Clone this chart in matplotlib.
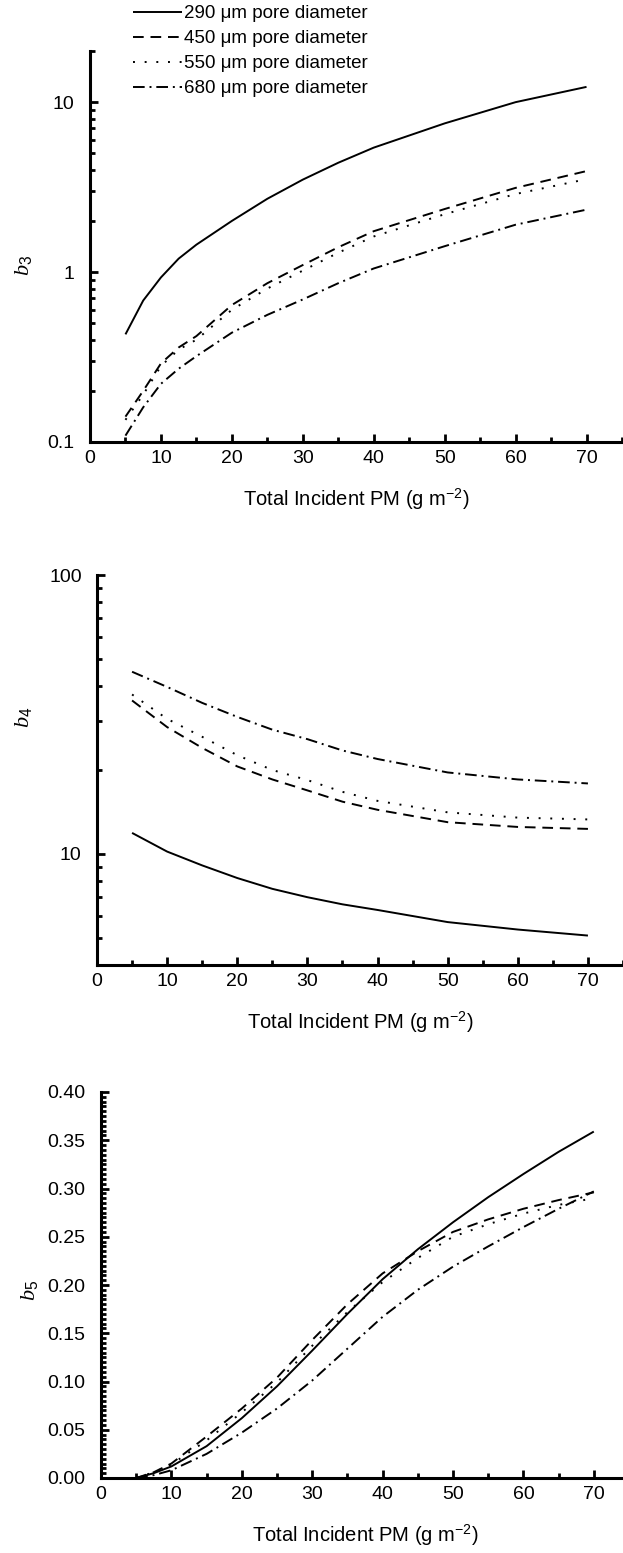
import matplotlib
matplotlib.use("Agg")
import matplotlib.pyplot as plt
from matplotlib.ticker import MultipleLocator, LogLocator, NullFormatter, FuncFormatter

plt.rcParams['font.family'] = ['Liberation Sans', 'DejaVu Sans']
plt.rcParams['mathtext.fontset'] = 'custom'
plt.rcParams['mathtext.rm'] = 'Liberation Sans'
plt.rcParams['mathtext.it'] = 'Liberation Serif:italic'

# labels of the four pore sizes
labels = ["290 μm pore diameter", "450 μm pore diameter",
          "550 μm pore diameter", "680 μm pore diameter"]

# b3 against total incident PM
x_b3 = [5, 7.5, 10, 12.5, 15, 20, 25, 30, 35, 40, 50, 60, 70]
b3_290 = [0.43, 0.68, 0.93, 1.2, 1.45, 2.0, 2.7, 3.5, 4.4, 5.4, 7.5, 10.0, 12.3]
b3_450 = [0.141, 0.2, 0.29, 0.36, 0.42, 0.64, 0.86, 1.1, 1.4, 1.74, 2.35, 3.13, 3.93]
b3_550 = [0.135, 0.19, 0.28, 0.35, 0.40, 0.6, 0.8, 1.02, 1.3, 1.62, 2.19, 2.88, 3.52]
b3_680 = [0.109, 0.16, 0.22, 0.27, 0.32, 0.44, 0.56, 0.69, 0.86, 1.05, 1.42, 1.9, 2.33]

# b4
x_b4 = [5, 10, 15, 20, 25, 30, 35, 40, 50, 60, 70]
b4_290 = [11.9, 10.2, 9.1, 8.2, 7.5, 7.0, 6.6, 6.3, 5.7, 5.36, 5.1]
b4_450 = [35.5, 28.5, 24.0, 20.6, 18.5, 16.9, 15.4, 14.4, 13.0, 12.5, 12.3]
b4_550 = [37.3, 30.5, 26.3, 22.6, 20.0, 18.4, 16.7, 15.5, 14.1, 13.5, 13.3]
b4_680 = [45.0, 39.7, 34.8, 31.0, 27.9, 25.8, 23.5, 21.9, 19.6, 18.5, 17.9]

# b5
x_b5 = [5, 7.5, 10, 15, 20, 25, 30, 35, 40, 45, 50, 55, 60, 65, 70]
b5_290 = [0, 0.005, 0.012, 0.033, 0.062, 0.095, 0.132, 0.17, 0.206, 0.237, 0.265, 0.291, 0.315, 0.338, 0.359]
b5_450 = [0, 0.006, 0.015, 0.043, 0.072, 0.104, 0.143, 0.18, 0.212, 0.235, 0.255, 0.268, 0.279, 0.288, 0.296]
b5_550 = [0, 0.006, 0.014, 0.039, 0.068, 0.099, 0.137, 0.172, 0.203, 0.228, 0.25, 0.263, 0.274, 0.283, 0.29]
b5_680 = [0, 0.003, 0.008, 0.025, 0.047, 0.072, 0.101, 0.134, 0.167, 0.195, 0.219, 0.24, 0.26, 0.279, 0.297]

# line styles: solid, dashed, dotted, dash-dot
styles = [(0, ()), (0, (5.5, 3.5)), (0, (1, 5)), (0, (6, 2.5, 1, 2.5))]

fig = plt.figure(figsize=(6.23, 15.53), dpi=100)
W, H = 623.0, 1553.0


def make_axes(left, top, bottom, right):
    return fig.add_axes([left / W, 1 - bottom / H, (right - left) / W, (bottom - top) / H])


def style_axes(ax):
    for s in ['top', 'right']:
        ax.spines[s].set_visible(False)
    for s in ['left', 'bottom']:
        ax.spines[s].set_linewidth(2.2)
    ax.tick_params(which='both', direction='in', width=2, labelsize=14)
    ax.tick_params(axis='x', pad=6)
    ax.tick_params(axis='y', pad=11)
    ax.tick_params(which='major', length=6)
    ax.tick_params(which='minor', length=3.5)
    ax.set_xlim(0, 75)
    ax.xaxis.set_major_locator(MultipleLocator(10))
    ax.xaxis.set_minor_locator(MultipleLocator(5))
    ax.set_xlabel("Total Incident PM (g m$^{-2}$)", fontsize=14.5, labelpad=14)


def draw(ax, x, series):
    lines = []
    for y, ls in zip(series, styles):
        ln, = ax.plot(x, y, color='black', lw=1.4, linestyle=ls)
        lines.append(ln)
    return lines


def y_title(text, xpix, ypix):
    fig.text(xpix / W, 1 - ypix / H, text, rotation=90, fontsize=16,
             ha='center', va='center')


plain = FuncFormatter(lambda v, p: '{:g}'.format(v))

# top panel
ax1 = make_axes(90, 51, 442, 622)
style_axes(ax1)
handles = draw(ax1, x_b3, [b3_290, b3_450, b3_550, b3_680])
ax1.set_yscale('log')
ax1.set_ylim(0.1, 20)
ax1.yaxis.set_major_locator(LogLocator(base=10, numticks=10))
ax1.yaxis.set_minor_locator(LogLocator(base=10, subs=range(2, 10), numticks=20))
ax1.yaxis.set_major_formatter(plain)
ax1.yaxis.set_minor_formatter(NullFormatter())
y_title("$b_\\mathit{3}$", 24, 265)
fig.legend(handles, labels, loc='upper left', bbox_to_anchor=(133 / W, 1 - 5 / H),
           frameon=False, fontsize=13.5, handlelength=2.6, handletextpad=0.1,
           labelspacing=0.42, borderpad=0, borderaxespad=0)

# middle panel
ax2 = make_axes(97, 575, 965, 623)
style_axes(ax2)
draw(ax2, x_b4, [b4_290, b4_450, b4_550, b4_680])
ax2.set_yscale('log')
ax2.set_ylim(4, 100)
ax2.yaxis.set_major_locator(LogLocator(base=10, numticks=10))
ax2.yaxis.set_minor_locator(LogLocator(base=10, subs=range(2, 10), numticks=20))
ax2.yaxis.set_major_formatter(plain)
ax2.yaxis.set_minor_formatter(NullFormatter())
y_title("$b_\\mathit{4}$", 24, 717)

# bottom panel
ax3 = make_axes(101, 1092, 1478, 629)
style_axes(ax3)
draw(ax3, x_b5, [b5_290, b5_450, b5_550, b5_680])
ax3.set_ylim(0, 0.40)
ax3.yaxis.set_major_locator(MultipleLocator(0.05))
ax3.yaxis.set_minor_locator(MultipleLocator(0.005))
ax3.yaxis.set_major_formatter(FuncFormatter(lambda v, p: '{:.2f}'.format(v)))
y_title("$b_\\mathit{5}$", 30, 1290)

fig.savefig("out.png", dpi=100)
